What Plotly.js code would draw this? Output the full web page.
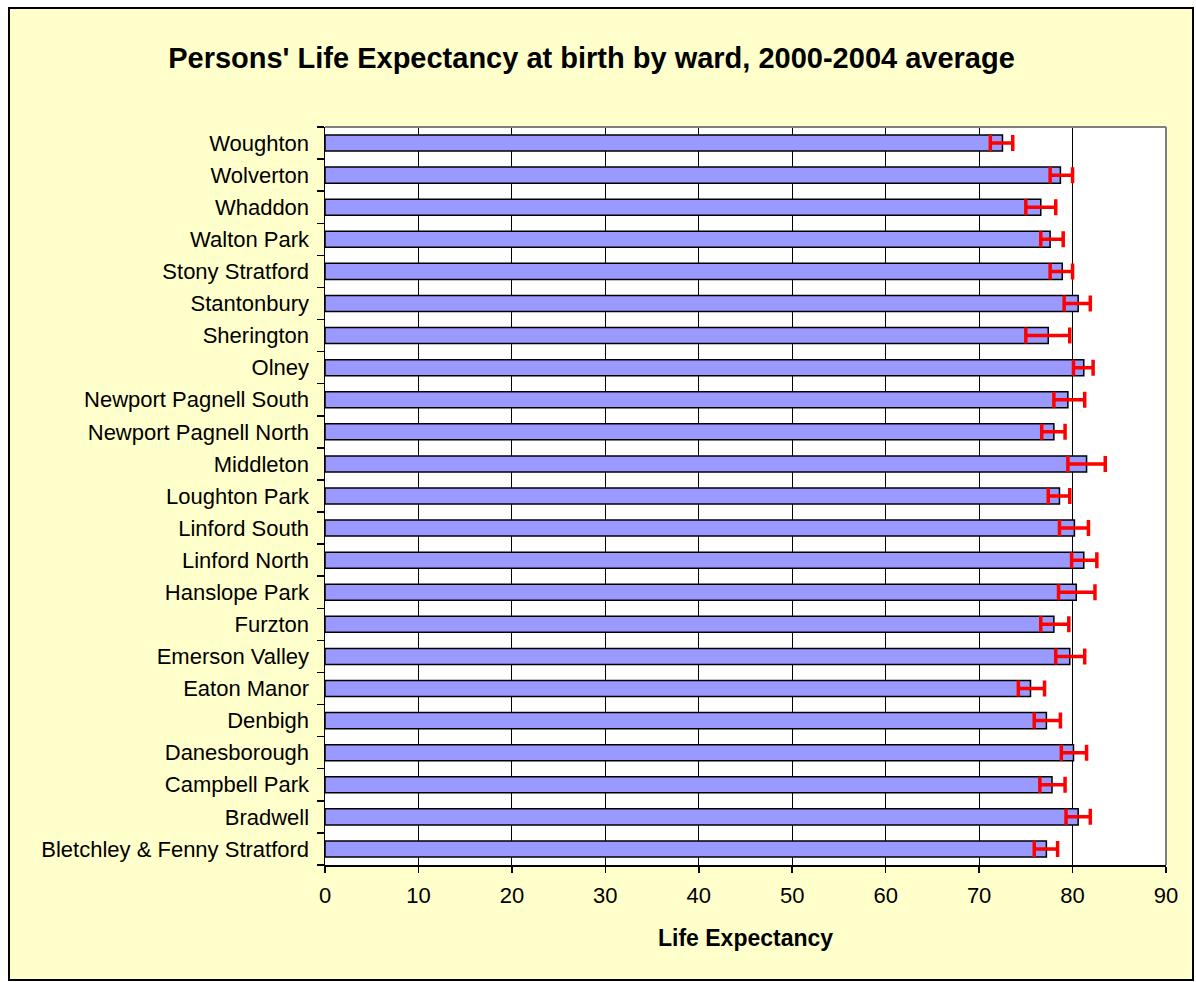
<!DOCTYPE html>
<html>
<head>
<meta charset="utf-8">
<script src="https://cdn.plot.ly/plotly-3.0.1.min.js"></script>
<style>
  html, body { margin: 0; padding: 0; background: #ffffff; }
  #wrap { position: absolute; left: 8px; top: 7px; border: 2px solid #000; width: 1182px; height: 970px; background: #FFFFCC; }
  #chart { width: 1182px; height: 970px; }
</style>
</head>
<body>
<div id="wrap"><div id="chart"></div></div>
<script>
const wards = [
  "Bletchley & Fenny Stratford", "Bradwell", "Campbell Park", "Danesborough", "Denbigh",
  "Eaton Manor", "Emerson Valley", "Furzton", "Hanslope Park", "Linford North",
  "Linford South", "Loughton Park", "Middleton", "Newport Pagnell North", "Newport Pagnell South",
  "Olney", "Sherington", "Stantonbury", "Stony Stratford", "Walton Park",
  "Whaddon", "Wolverton", "Woughton"
];
const lifeExpectancy = [
  77.2, 80.6, 77.8, 80.1, 77.2,
  75.5, 79.7, 78.0, 80.4, 81.2,
  80.2, 78.6, 81.5, 78.0, 79.5,
  81.2, 77.4, 80.6, 78.9, 77.6,
  76.6, 78.7, 72.5
];
const errPlus = [
  1.2, 1.3, 1.4, 1.4, 1.5,
  1.5, 1.6, 1.6, 2.0, 1.4,
  1.5, 1.1, 2.0, 1.2, 1.8,
  1.0, 2.3, 1.3, 1.1, 1.4,
  1.6, 1.3, 1.1
];
const errMinus = [
  1.3, 1.3, 1.3, 1.3, 1.3,
  1.3, 1.5, 1.4, 1.9, 1.3,
  1.6, 1.2, 2.0, 1.3, 1.5,
  1.1, 2.4, 1.5, 1.3, 1.0,
  1.6, 1.1, 1.3
];
const xTicks = [0, 10, 20, 30, 40, 50, 60, 70, 80, 90];

const trace = {
  type: 'bar',
  orientation: 'h',
  y: wards,
  x: lifeExpectancy,
  width: 0.5,
  marker: { color: '#9999FF', line: { color: '#000000', width: 1.5 } },
  error_x: {
    type: 'data', symmetric: false,
    array: errPlus, arrayminus: errMinus,
    color: '#FF0000', thickness: 3.5, width: 8
  },
  hoverinfo: 'x+y'
};

const layout = {
  width: 1182, height: 970,
  paper_bgcolor: '#FFFFCC',
  plot_bgcolor: '#FFFFFF',
  margin: { l: 315, r: 26, t: 118, b: 114 },
  showlegend: false,
  font: { family: 'Liberation Sans, Arial, sans-serif', color: '#000', size: 22 },
  title: {
    text: "<b>Persons' Life Expectancy at birth by ward, 2000-2004 average</b>",
    font: { size: 29, family: 'Liberation Sans, Arial, sans-serif', color: '#000' },
    x: (591.5 - 10) / 1182, xanchor: 'center', xref: 'container',
    y: 1 - 49 / 970, yref: 'container', yanchor: 'middle'
  },
  xaxis: {
    range: [0, 90], tickvals: xTicks, ticktext: xTicks.map(String),
    showgrid: true, gridcolor: '#000', gridwidth: 1,
    showline: true, linecolor: '#000', linewidth: 1.5,
    ticks: 'outside', ticklen: 6, tickcolor: '#000', tickwidth: 1.5,
    zeroline: false, fixedrange: true,
    tickfont: { size: 22 }, ticklabelstandoff: 4
  },
  yaxis: {
    type: 'category', categoryorder: 'array', categoryarray: wards,
    showline: true, linecolor: '#000', linewidth: 1.5,
    ticks: 'outside', tickson: 'boundaries', ticklen: 7, tickcolor: '#000', tickwidth: 1.5,
    showgrid: false, fixedrange: true,
    tickfont: { size: 22 }, ticklabelstandoff: 10
  },
  annotations: [
    {
      text: '<b>Life Expectancy</b>', showarrow: false,
      xref: 'paper', yref: 'paper', x: 0.5, xanchor: 'center',
      y: -(929 - 856) / 738, yanchor: 'middle',
      font: { size: 23, color: '#000' }
    }
  ],
  shapes: [
    { type: 'line', xref: 'paper', yref: 'paper', x0: 0, x1: 1, y0: 1, y1: 1, line: { color: '#808080', width: 2 } },
    { type: 'line', xref: 'paper', yref: 'paper', x0: 1, x1: 1, y0: 0, y1: 1, line: { color: '#808080', width: 2 } }
  ]
};

Plotly.newPlot('chart', [trace], layout, { displayModeBar: false, staticPlot: true });
</script>
</body>
</html>
